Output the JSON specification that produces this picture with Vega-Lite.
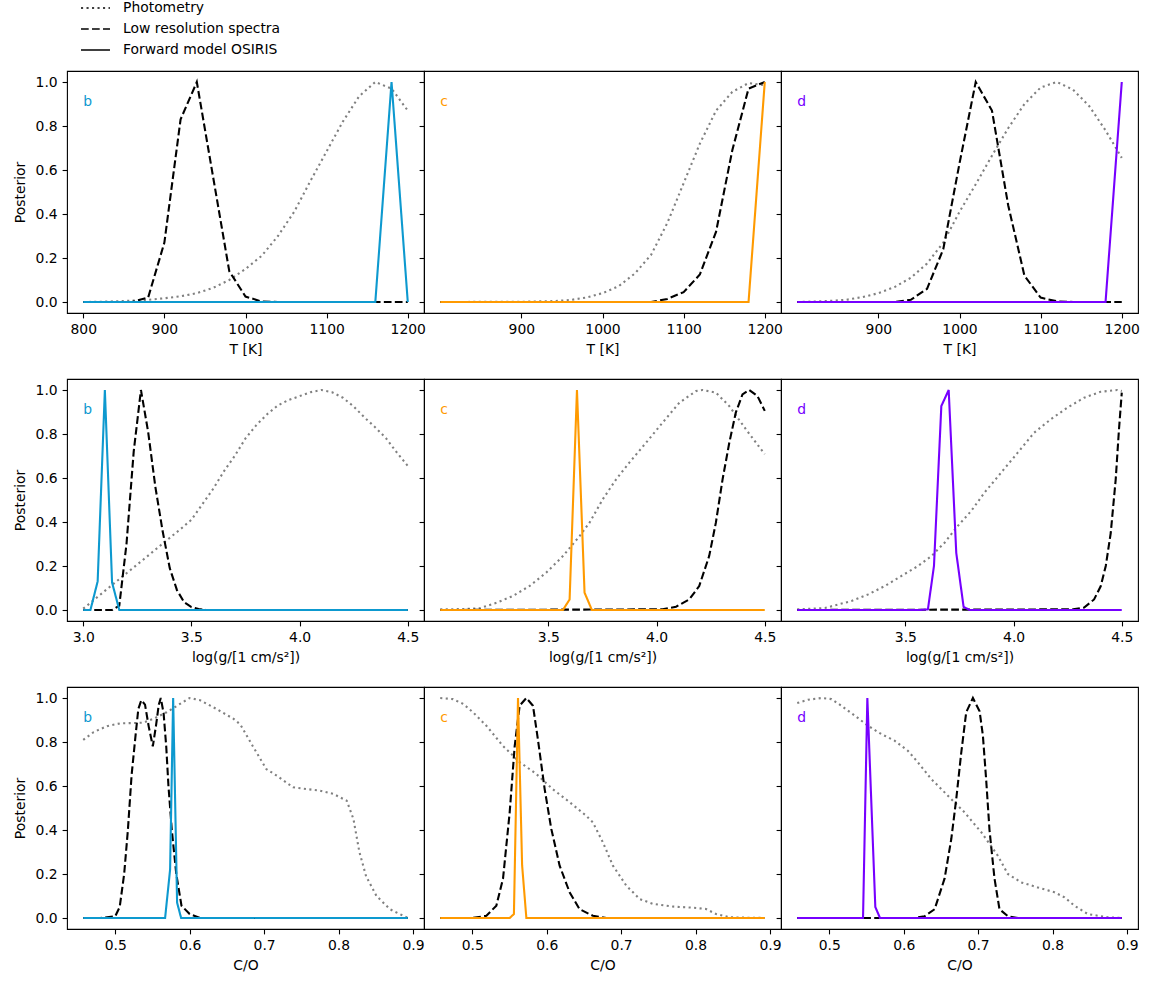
{
"$schema": "https://vega.github.io/schema/vega-lite/v6.json",
"padding": {"left": 12, "top": 0, "right": 13, "bottom": 0},
"config": {
 "font": "DejaVu Sans",
 "view": {"stroke": "#000000", "strokeWidth": 1.1},
 "axis": {"domain": false, "grid": false, "ticks": true, "tickColor": "#000000", "tickSize": 4.9, "tickWidth": 1.1, "labelColor": "#000000", "labelFont": "DejaVu Sans", "labelFontSize": 13.9, "labelPadding": 4.9, "labelFlush": false, "labelOverlap": false, "titleColor": "#000000", "titleFont": "DejaVu Sans", "titleFontSize": 13.9, "titleFontWeight": "normal"},
 "axisX": {"titlePadding": 6},
 "axisY": {"titlePadding": 8}
},
"datasets": {
"labels": [
 {"p":"T","pl":"b","x":800,"y":0.89},{"p":"T","pl":"c","x":800,"y":0.89},{"p":"T","pl":"d","x":800,"y":0.89},
 {"p":"G","pl":"b","x":3.0,"y":0.89},{"p":"G","pl":"c","x":3.0,"y":0.89},{"p":"G","pl":"d","x":3.0,"y":0.89},
 {"p":"CO","pl":"b","x":0.457,"y":0.89},{"p":"CO","pl":"c","x":0.457,"y":0.89},{"p":"CO","pl":"d","x":0.457,"y":0.89}
],
"curves": [
 {"p":"T","pl":"b","type":"Photometry","x":800,"y":0},{"p":"T","pl":"b","type":"Photometry","x":820,"y":0.001},{"p":"T","pl":"b","type":"Photometry","x":840,"y":0.003},{"p":"T","pl":"b","type":"Photometry","x":860,"y":0.006},{"p":"T","pl":"b","type":"Photometry","x":880,"y":0.01},{"p":"T","pl":"b","type":"Photometry","x":900,"y":0.017},{"p":"T","pl":"b","type":"Photometry","x":920,"y":0.026},{"p":"T","pl":"b","type":"Photometry","x":940,"y":0.04},{"p":"T","pl":"b","type":"Photometry","x":960,"y":0.064},{"p":"T","pl":"b","type":"Photometry","x":980,"y":0.1},{"p":"T","pl":"b","type":"Photometry","x":1000,"y":0.15},{"p":"T","pl":"b","type":"Photometry","x":1020,"y":0.21},{"p":"T","pl":"b","type":"Photometry","x":1040,"y":0.3},{"p":"T","pl":"b","type":"Photometry","x":1060,"y":0.41},{"p":"T","pl":"b","type":"Photometry","x":1080,"y":0.55},{"p":"T","pl":"b","type":"Photometry","x":1100,"y":0.685},{"p":"T","pl":"b","type":"Photometry","x":1120,"y":0.82},{"p":"T","pl":"b","type":"Photometry","x":1140,"y":0.935},{"p":"T","pl":"b","type":"Photometry","x":1160,"y":1.0},{"p":"T","pl":"b","type":"Photometry","x":1180,"y":0.97},{"p":"T","pl":"b","type":"Photometry","x":1200,"y":0.87},
 {"p":"T","pl":"b","type":"Low resolution spectra","x":800,"y":0},{"p":"T","pl":"b","type":"Low resolution spectra","x":860,"y":0},{"p":"T","pl":"b","type":"Low resolution spectra","x":880,"y":0.02},{"p":"T","pl":"b","type":"Low resolution spectra","x":900,"y":0.27},{"p":"T","pl":"b","type":"Low resolution spectra","x":920,"y":0.83},{"p":"T","pl":"b","type":"Low resolution spectra","x":940,"y":1.0},{"p":"T","pl":"b","type":"Low resolution spectra","x":960,"y":0.57},{"p":"T","pl":"b","type":"Low resolution spectra","x":980,"y":0.14},{"p":"T","pl":"b","type":"Low resolution spectra","x":1000,"y":0.025},{"p":"T","pl":"b","type":"Low resolution spectra","x":1020,"y":0.002},{"p":"T","pl":"b","type":"Low resolution spectra","x":1040,"y":0},{"p":"T","pl":"b","type":"Low resolution spectra","x":1200,"y":0},
 {"p":"T","pl":"b","type":"Forward model OSIRIS","x":800,"y":0},{"p":"T","pl":"b","type":"Forward model OSIRIS","x":1160,"y":0},{"p":"T","pl":"b","type":"Forward model OSIRIS","x":1180,"y":1.0},{"p":"T","pl":"b","type":"Forward model OSIRIS","x":1200,"y":0},

 {"p":"T","pl":"c","type":"Photometry","x":800,"y":0},{"p":"T","pl":"c","type":"Photometry","x":900,"y":0.001},{"p":"T","pl":"c","type":"Photometry","x":940,"y":0.004},{"p":"T","pl":"c","type":"Photometry","x":960,"y":0.009},{"p":"T","pl":"c","type":"Photometry","x":980,"y":0.02},{"p":"T","pl":"c","type":"Photometry","x":1000,"y":0.04},{"p":"T","pl":"c","type":"Photometry","x":1020,"y":0.072},{"p":"T","pl":"c","type":"Photometry","x":1040,"y":0.13},{"p":"T","pl":"c","type":"Photometry","x":1060,"y":0.215},{"p":"T","pl":"c","type":"Photometry","x":1080,"y":0.36},{"p":"T","pl":"c","type":"Photometry","x":1100,"y":0.54},{"p":"T","pl":"c","type":"Photometry","x":1120,"y":0.72},{"p":"T","pl":"c","type":"Photometry","x":1140,"y":0.87},{"p":"T","pl":"c","type":"Photometry","x":1160,"y":0.955},{"p":"T","pl":"c","type":"Photometry","x":1180,"y":0.995},{"p":"T","pl":"c","type":"Photometry","x":1200,"y":0.985},
 {"p":"T","pl":"c","type":"Low resolution spectra","x":800,"y":0},{"p":"T","pl":"c","type":"Low resolution spectra","x":1060,"y":0},{"p":"T","pl":"c","type":"Low resolution spectra","x":1080,"y":0.014},{"p":"T","pl":"c","type":"Low resolution spectra","x":1100,"y":0.045},{"p":"T","pl":"c","type":"Low resolution spectra","x":1120,"y":0.125},{"p":"T","pl":"c","type":"Low resolution spectra","x":1140,"y":0.32},{"p":"T","pl":"c","type":"Low resolution spectra","x":1160,"y":0.69},{"p":"T","pl":"c","type":"Low resolution spectra","x":1180,"y":0.97},{"p":"T","pl":"c","type":"Low resolution spectra","x":1200,"y":1.0},
 {"p":"T","pl":"c","type":"Forward model OSIRIS","x":800,"y":0},{"p":"T","pl":"c","type":"Forward model OSIRIS","x":1180,"y":0},{"p":"T","pl":"c","type":"Forward model OSIRIS","x":1200,"y":1.0},

 {"p":"T","pl":"d","type":"Photometry","x":800,"y":0},{"p":"T","pl":"d","type":"Photometry","x":820,"y":0.002},{"p":"T","pl":"d","type":"Photometry","x":840,"y":0.005},{"p":"T","pl":"d","type":"Photometry","x":860,"y":0.01},{"p":"T","pl":"d","type":"Photometry","x":880,"y":0.022},{"p":"T","pl":"d","type":"Photometry","x":900,"y":0.04},{"p":"T","pl":"d","type":"Photometry","x":920,"y":0.068},{"p":"T","pl":"d","type":"Photometry","x":940,"y":0.11},{"p":"T","pl":"d","type":"Photometry","x":960,"y":0.175},{"p":"T","pl":"d","type":"Photometry","x":980,"y":0.27},{"p":"T","pl":"d","type":"Photometry","x":1000,"y":0.41},{"p":"T","pl":"d","type":"Photometry","x":1020,"y":0.535},{"p":"T","pl":"d","type":"Photometry","x":1040,"y":0.665},{"p":"T","pl":"d","type":"Photometry","x":1060,"y":0.79},{"p":"T","pl":"d","type":"Photometry","x":1080,"y":0.9},{"p":"T","pl":"d","type":"Photometry","x":1100,"y":0.975},{"p":"T","pl":"d","type":"Photometry","x":1120,"y":1.0},{"p":"T","pl":"d","type":"Photometry","x":1140,"y":0.965},{"p":"T","pl":"d","type":"Photometry","x":1160,"y":0.89},{"p":"T","pl":"d","type":"Photometry","x":1180,"y":0.78},{"p":"T","pl":"d","type":"Photometry","x":1200,"y":0.655},
 {"p":"T","pl":"d","type":"Low resolution spectra","x":800,"y":0},{"p":"T","pl":"d","type":"Low resolution spectra","x":920,"y":0},{"p":"T","pl":"d","type":"Low resolution spectra","x":940,"y":0.01},{"p":"T","pl":"d","type":"Low resolution spectra","x":960,"y":0.06},{"p":"T","pl":"d","type":"Low resolution spectra","x":980,"y":0.24},{"p":"T","pl":"d","type":"Low resolution spectra","x":1000,"y":0.63},{"p":"T","pl":"d","type":"Low resolution spectra","x":1020,"y":1.0},{"p":"T","pl":"d","type":"Low resolution spectra","x":1040,"y":0.87},{"p":"T","pl":"d","type":"Low resolution spectra","x":1060,"y":0.44},{"p":"T","pl":"d","type":"Low resolution spectra","x":1080,"y":0.12},{"p":"T","pl":"d","type":"Low resolution spectra","x":1100,"y":0.02},{"p":"T","pl":"d","type":"Low resolution spectra","x":1120,"y":0.003},{"p":"T","pl":"d","type":"Low resolution spectra","x":1140,"y":0},{"p":"T","pl":"d","type":"Low resolution spectra","x":1200,"y":0},
 {"p":"T","pl":"d","type":"Forward model OSIRIS","x":800,"y":0},{"p":"T","pl":"d","type":"Forward model OSIRIS","x":1180,"y":0},{"p":"T","pl":"d","type":"Forward model OSIRIS","x":1200,"y":1.0},

 {"p":"G","pl":"b","type":"Photometry","x":3.0,"y":0.006},{"p":"G","pl":"b","type":"Photometry","x":3.05,"y":0.046},{"p":"G","pl":"b","type":"Photometry","x":3.1,"y":0.087},{"p":"G","pl":"b","type":"Photometry","x":3.15,"y":0.127},{"p":"G","pl":"b","type":"Photometry","x":3.2,"y":0.167},{"p":"G","pl":"b","type":"Photometry","x":3.25,"y":0.207},{"p":"G","pl":"b","type":"Photometry","x":3.3,"y":0.247},{"p":"G","pl":"b","type":"Photometry","x":3.35,"y":0.288},{"p":"G","pl":"b","type":"Photometry","x":3.4,"y":0.328},{"p":"G","pl":"b","type":"Photometry","x":3.45,"y":0.368},{"p":"G","pl":"b","type":"Photometry","x":3.5,"y":0.41},{"p":"G","pl":"b","type":"Photometry","x":3.55,"y":0.48},{"p":"G","pl":"b","type":"Photometry","x":3.6,"y":0.55},{"p":"G","pl":"b","type":"Photometry","x":3.65,"y":0.63},{"p":"G","pl":"b","type":"Photometry","x":3.7,"y":0.7},{"p":"G","pl":"b","type":"Photometry","x":3.75,"y":0.78},{"p":"G","pl":"b","type":"Photometry","x":3.8,"y":0.84},{"p":"G","pl":"b","type":"Photometry","x":3.85,"y":0.89},{"p":"G","pl":"b","type":"Photometry","x":3.9,"y":0.93},{"p":"G","pl":"b","type":"Photometry","x":3.95,"y":0.955},{"p":"G","pl":"b","type":"Photometry","x":4.0,"y":0.972},{"p":"G","pl":"b","type":"Photometry","x":4.05,"y":0.99},{"p":"G","pl":"b","type":"Photometry","x":4.1,"y":1.0},{"p":"G","pl":"b","type":"Photometry","x":4.15,"y":0.99},{"p":"G","pl":"b","type":"Photometry","x":4.2,"y":0.965},{"p":"G","pl":"b","type":"Photometry","x":4.25,"y":0.925},{"p":"G","pl":"b","type":"Photometry","x":4.3,"y":0.875},{"p":"G","pl":"b","type":"Photometry","x":4.35,"y":0.83},{"p":"G","pl":"b","type":"Photometry","x":4.4,"y":0.78},{"p":"G","pl":"b","type":"Photometry","x":4.45,"y":0.715},{"p":"G","pl":"b","type":"Photometry","x":4.5,"y":0.655},
 {"p":"G","pl":"b","type":"Low resolution spectra","x":3.0,"y":0},{"p":"G","pl":"b","type":"Low resolution spectra","x":3.1333,"y":0},{"p":"G","pl":"b","type":"Low resolution spectra","x":3.1667,"y":0.02},{"p":"G","pl":"b","type":"Low resolution spectra","x":3.2,"y":0.3},{"p":"G","pl":"b","type":"Low resolution spectra","x":3.2333,"y":0.72},{"p":"G","pl":"b","type":"Low resolution spectra","x":3.2667,"y":1.0},{"p":"G","pl":"b","type":"Low resolution spectra","x":3.3,"y":0.81},{"p":"G","pl":"b","type":"Low resolution spectra","x":3.3333,"y":0.56},{"p":"G","pl":"b","type":"Low resolution spectra","x":3.3667,"y":0.36},{"p":"G","pl":"b","type":"Low resolution spectra","x":3.4,"y":0.19},{"p":"G","pl":"b","type":"Low resolution spectra","x":3.4333,"y":0.09},{"p":"G","pl":"b","type":"Low resolution spectra","x":3.4667,"y":0.035},{"p":"G","pl":"b","type":"Low resolution spectra","x":3.5,"y":0.013},{"p":"G","pl":"b","type":"Low resolution spectra","x":3.5333,"y":0.004},{"p":"G","pl":"b","type":"Low resolution spectra","x":3.5667,"y":0.001},{"p":"G","pl":"b","type":"Low resolution spectra","x":3.6,"y":0},{"p":"G","pl":"b","type":"Low resolution spectra","x":4.5,"y":0},
 {"p":"G","pl":"b","type":"Forward model OSIRIS","x":3.0,"y":0},{"p":"G","pl":"b","type":"Forward model OSIRIS","x":3.0333,"y":0},{"p":"G","pl":"b","type":"Forward model OSIRIS","x":3.0667,"y":0.13},{"p":"G","pl":"b","type":"Forward model OSIRIS","x":3.1,"y":1.0},{"p":"G","pl":"b","type":"Forward model OSIRIS","x":3.1333,"y":0.125},{"p":"G","pl":"b","type":"Forward model OSIRIS","x":3.1667,"y":0},{"p":"G","pl":"b","type":"Forward model OSIRIS","x":4.5,"y":0},

 {"p":"G","pl":"c","type":"Photometry","x":3.0,"y":0.003},{"p":"G","pl":"c","type":"Photometry","x":3.1,"y":0.004},{"p":"G","pl":"c","type":"Photometry","x":3.183,"y":0.008},{"p":"G","pl":"c","type":"Photometry","x":3.26,"y":0.033},{"p":"G","pl":"c","type":"Photometry","x":3.337,"y":0.064},{"p":"G","pl":"c","type":"Photometry","x":3.414,"y":0.11},{"p":"G","pl":"c","type":"Photometry","x":3.49,"y":0.17},{"p":"G","pl":"c","type":"Photometry","x":3.567,"y":0.245},{"p":"G","pl":"c","type":"Photometry","x":3.644,"y":0.336},{"p":"G","pl":"c","type":"Photometry","x":3.69,"y":0.397},{"p":"G","pl":"c","type":"Photometry","x":3.751,"y":0.503},{"p":"G","pl":"c","type":"Photometry","x":3.813,"y":0.594},{"p":"G","pl":"c","type":"Photometry","x":3.874,"y":0.67},{"p":"G","pl":"c","type":"Photometry","x":3.951,"y":0.76},{"p":"G","pl":"c","type":"Photometry","x":4.028,"y":0.852},{"p":"G","pl":"c","type":"Photometry","x":4.105,"y":0.942},{"p":"G","pl":"c","type":"Photometry","x":4.182,"y":0.995},{"p":"G","pl":"c","type":"Photometry","x":4.213,"y":1.0},{"p":"G","pl":"c","type":"Photometry","x":4.274,"y":0.988},{"p":"G","pl":"c","type":"Photometry","x":4.336,"y":0.927},{"p":"G","pl":"c","type":"Photometry","x":4.413,"y":0.821},{"p":"G","pl":"c","type":"Photometry","x":4.5,"y":0.708},
 {"p":"G","pl":"c","type":"Low resolution spectra","x":3.0,"y":0},{"p":"G","pl":"c","type":"Low resolution spectra","x":4.028,"y":0.003},{"p":"G","pl":"c","type":"Low resolution spectra","x":4.09,"y":0.015},{"p":"G","pl":"c","type":"Low resolution spectra","x":4.151,"y":0.048},{"p":"G","pl":"c","type":"Low resolution spectra","x":4.197,"y":0.109},{"p":"G","pl":"c","type":"Low resolution spectra","x":4.243,"y":0.245},{"p":"G","pl":"c","type":"Low resolution spectra","x":4.274,"y":0.397},{"p":"G","pl":"c","type":"Low resolution spectra","x":4.305,"y":0.594},{"p":"G","pl":"c","type":"Low resolution spectra","x":4.336,"y":0.76},{"p":"G","pl":"c","type":"Low resolution spectra","x":4.366,"y":0.897},{"p":"G","pl":"c","type":"Low resolution spectra","x":4.397,"y":0.98},{"p":"G","pl":"c","type":"Low resolution spectra","x":4.428,"y":1.0},{"p":"G","pl":"c","type":"Low resolution spectra","x":4.466,"y":0.973},{"p":"G","pl":"c","type":"Low resolution spectra","x":4.5,"y":0.905},
 {"p":"G","pl":"c","type":"Forward model OSIRIS","x":3.0,"y":0},{"p":"G","pl":"c","type":"Forward model OSIRIS","x":3.567,"y":0},{"p":"G","pl":"c","type":"Forward model OSIRIS","x":3.598,"y":0.048},{"p":"G","pl":"c","type":"Forward model OSIRIS","x":3.632,"y":1.0},{"p":"G","pl":"c","type":"Forward model OSIRIS","x":3.667,"y":0.079},{"p":"G","pl":"c","type":"Forward model OSIRIS","x":3.701,"y":0},{"p":"G","pl":"c","type":"Forward model OSIRIS","x":4.5,"y":0},

 {"p":"G","pl":"d","type":"Photometry","x":3.0,"y":0.003},{"p":"G","pl":"d","type":"Photometry","x":3.128,"y":0.009},{"p":"G","pl":"d","type":"Photometry","x":3.251,"y":0.041},{"p":"G","pl":"d","type":"Photometry","x":3.328,"y":0.071},{"p":"G","pl":"d","type":"Photometry","x":3.405,"y":0.109},{"p":"G","pl":"d","type":"Photometry","x":3.482,"y":0.155},{"p":"G","pl":"d","type":"Photometry","x":3.558,"y":0.2},{"p":"G","pl":"d","type":"Photometry","x":3.62,"y":0.245},{"p":"G","pl":"d","type":"Photometry","x":3.681,"y":0.306},{"p":"G","pl":"d","type":"Photometry","x":3.742,"y":0.382},{"p":"G","pl":"d","type":"Photometry","x":3.804,"y":0.45},{"p":"G","pl":"d","type":"Photometry","x":3.865,"y":0.533},{"p":"G","pl":"d","type":"Photometry","x":3.942,"y":0.624},{"p":"G","pl":"d","type":"Photometry","x":4.019,"y":0.715},{"p":"G","pl":"d","type":"Photometry","x":4.095,"y":0.806},{"p":"G","pl":"d","type":"Photometry","x":4.172,"y":0.867},{"p":"G","pl":"d","type":"Photometry","x":4.249,"y":0.92},{"p":"G","pl":"d","type":"Photometry","x":4.326,"y":0.965},{"p":"G","pl":"d","type":"Photometry","x":4.402,"y":0.992},{"p":"G","pl":"d","type":"Photometry","x":4.479,"y":1.0},{"p":"G","pl":"d","type":"Photometry","x":4.5,"y":0.995},
 {"p":"G","pl":"d","type":"Low resolution spectra","x":3.0,"y":0},{"p":"G","pl":"d","type":"Low resolution spectra","x":4.275,"y":0.003},{"p":"G","pl":"d","type":"Low resolution spectra","x":4.326,"y":0.011},{"p":"G","pl":"d","type":"Low resolution spectra","x":4.372,"y":0.048},{"p":"G","pl":"d","type":"Low resolution spectra","x":4.403,"y":0.109},{"p":"G","pl":"d","type":"Low resolution spectra","x":4.426,"y":0.2},{"p":"G","pl":"d","type":"Low resolution spectra","x":4.449,"y":0.35},{"p":"G","pl":"d","type":"Low resolution spectra","x":4.472,"y":0.594},{"p":"G","pl":"d","type":"Low resolution spectra","x":4.487,"y":0.82},{"p":"G","pl":"d","type":"Low resolution spectra","x":4.5,"y":0.988},
 {"p":"G","pl":"d","type":"Forward model OSIRIS","x":3.0,"y":0},{"p":"G","pl":"d","type":"Forward model OSIRIS","x":3.567,"y":0},{"p":"G","pl":"d","type":"Forward model OSIRIS","x":3.604,"y":0.003},{"p":"G","pl":"d","type":"Forward model OSIRIS","x":3.632,"y":0.2},{"p":"G","pl":"d","type":"Forward model OSIRIS","x":3.666,"y":0.927},{"p":"G","pl":"d","type":"Forward model OSIRIS","x":3.7,"y":1.0},{"p":"G","pl":"d","type":"Forward model OSIRIS","x":3.735,"y":0.26},{"p":"G","pl":"d","type":"Forward model OSIRIS","x":3.769,"y":0.014},{"p":"G","pl":"d","type":"Forward model OSIRIS","x":3.797,"y":0},{"p":"G","pl":"d","type":"Forward model OSIRIS","x":4.5,"y":0},

 {"p":"CO","pl":"b","type":"Photometry","x":0.457,"y":0.81},{"p":"CO","pl":"b","type":"Photometry","x":0.471,"y":0.845},{"p":"CO","pl":"b","type":"Photometry","x":0.489,"y":0.872},{"p":"CO","pl":"b","type":"Photometry","x":0.507,"y":0.885},{"p":"CO","pl":"b","type":"Photometry","x":0.525,"y":0.886},{"p":"CO","pl":"b","type":"Photometry","x":0.538,"y":0.888},{"p":"CO","pl":"b","type":"Photometry","x":0.551,"y":0.905},{"p":"CO","pl":"b","type":"Photometry","x":0.569,"y":0.935},{"p":"CO","pl":"b","type":"Photometry","x":0.587,"y":0.973},{"p":"CO","pl":"b","type":"Photometry","x":0.6,"y":1.0},{"p":"CO","pl":"b","type":"Photometry","x":0.614,"y":0.99},{"p":"CO","pl":"b","type":"Photometry","x":0.636,"y":0.95},{"p":"CO","pl":"b","type":"Photometry","x":0.659,"y":0.905},{"p":"CO","pl":"b","type":"Photometry","x":0.668,"y":0.88},{"p":"CO","pl":"b","type":"Photometry","x":0.685,"y":0.78},{"p":"CO","pl":"b","type":"Photometry","x":0.703,"y":0.677},{"p":"CO","pl":"b","type":"Photometry","x":0.717,"y":0.647},{"p":"CO","pl":"b","type":"Photometry","x":0.739,"y":0.594},{"p":"CO","pl":"b","type":"Photometry","x":0.757,"y":0.586},{"p":"CO","pl":"b","type":"Photometry","x":0.775,"y":0.579},{"p":"CO","pl":"b","type":"Photometry","x":0.793,"y":0.564},{"p":"CO","pl":"b","type":"Photometry","x":0.811,"y":0.533},{"p":"CO","pl":"b","type":"Photometry","x":0.82,"y":0.45},{"p":"CO","pl":"b","type":"Photometry","x":0.828,"y":0.3},{"p":"CO","pl":"b","type":"Photometry","x":0.837,"y":0.19},{"p":"CO","pl":"b","type":"Photometry","x":0.851,"y":0.1},{"p":"CO","pl":"b","type":"Photometry","x":0.869,"y":0.04},{"p":"CO","pl":"b","type":"Photometry","x":0.893,"y":0.0},
 {"p":"CO","pl":"b","type":"Low resolution spectra","x":0.457,"y":0},{"p":"CO","pl":"b","type":"Low resolution spectra","x":0.48,"y":0},{"p":"CO","pl":"b","type":"Low resolution spectra","x":0.5,"y":0.008},{"p":"CO","pl":"b","type":"Low resolution spectra","x":0.506,"y":0.05},{"p":"CO","pl":"b","type":"Low resolution spectra","x":0.512,"y":0.2},{"p":"CO","pl":"b","type":"Low resolution spectra","x":0.517,"y":0.4},{"p":"CO","pl":"b","type":"Low resolution spectra","x":0.522,"y":0.65},{"p":"CO","pl":"b","type":"Low resolution spectra","x":0.527,"y":0.82},{"p":"CO","pl":"b","type":"Low resolution spectra","x":0.531,"y":0.95},{"p":"CO","pl":"b","type":"Low resolution spectra","x":0.535,"y":0.99},{"p":"CO","pl":"b","type":"Low resolution spectra","x":0.54,"y":0.97},{"p":"CO","pl":"b","type":"Low resolution spectra","x":0.545,"y":0.87},{"p":"CO","pl":"b","type":"Low resolution spectra","x":0.5505,"y":0.78},{"p":"CO","pl":"b","type":"Low resolution spectra","x":0.555,"y":0.88},{"p":"CO","pl":"b","type":"Low resolution spectra","x":0.5585,"y":0.97},{"p":"CO","pl":"b","type":"Low resolution spectra","x":0.5612,"y":1.0},{"p":"CO","pl":"b","type":"Low resolution spectra","x":0.565,"y":0.93},{"p":"CO","pl":"b","type":"Low resolution spectra","x":0.5685,"y":0.78},{"p":"CO","pl":"b","type":"Low resolution spectra","x":0.5715,"y":0.6},{"p":"CO","pl":"b","type":"Low resolution spectra","x":0.576,"y":0.4},{"p":"CO","pl":"b","type":"Low resolution spectra","x":0.582,"y":0.2},{"p":"CO","pl":"b","type":"Low resolution spectra","x":0.589,"y":0.056},{"p":"CO","pl":"b","type":"Low resolution spectra","x":0.6,"y":0.018},{"p":"CO","pl":"b","type":"Low resolution spectra","x":0.614,"y":0},{"p":"CO","pl":"b","type":"Low resolution spectra","x":0.893,"y":0},
 {"p":"CO","pl":"b","type":"Forward model OSIRIS","x":0.457,"y":0},{"p":"CO","pl":"b","type":"Forward model OSIRIS","x":0.567,"y":0},{"p":"CO","pl":"b","type":"Forward model OSIRIS","x":0.5737,"y":0.22},{"p":"CO","pl":"b","type":"Forward model OSIRIS","x":0.5778,"y":1.0},{"p":"CO","pl":"b","type":"Forward model OSIRIS","x":0.5831,"y":0.07},{"p":"CO","pl":"b","type":"Forward model OSIRIS","x":0.5885,"y":0},{"p":"CO","pl":"b","type":"Forward model OSIRIS","x":0.893,"y":0},

 {"p":"CO","pl":"c","type":"Photometry","x":0.457,"y":1.0},{"p":"CO","pl":"c","type":"Photometry","x":0.474,"y":0.995},{"p":"CO","pl":"c","type":"Photometry","x":0.488,"y":0.973},{"p":"CO","pl":"c","type":"Photometry","x":0.501,"y":0.935},{"p":"CO","pl":"c","type":"Photometry","x":0.519,"y":0.874},{"p":"CO","pl":"c","type":"Photometry","x":0.541,"y":0.783},{"p":"CO","pl":"c","type":"Photometry","x":0.564,"y":0.708},{"p":"CO","pl":"c","type":"Photometry","x":0.586,"y":0.655},{"p":"CO","pl":"c","type":"Photometry","x":0.608,"y":0.586},{"p":"CO","pl":"c","type":"Photometry","x":0.631,"y":0.526},{"p":"CO","pl":"c","type":"Photometry","x":0.653,"y":0.465},{"p":"CO","pl":"c","type":"Photometry","x":0.662,"y":0.435},{"p":"CO","pl":"c","type":"Photometry","x":0.6755,"y":0.344},{"p":"CO","pl":"c","type":"Photometry","x":0.689,"y":0.238},{"p":"CO","pl":"c","type":"Photometry","x":0.707,"y":0.147},{"p":"CO","pl":"c","type":"Photometry","x":0.725,"y":0.086},{"p":"CO","pl":"c","type":"Photometry","x":0.743,"y":0.064},{"p":"CO","pl":"c","type":"Photometry","x":0.769,"y":0.052},{"p":"CO","pl":"c","type":"Photometry","x":0.796,"y":0.047},{"p":"CO","pl":"c","type":"Photometry","x":0.814,"y":0.041},{"p":"CO","pl":"c","type":"Photometry","x":0.8276,"y":0.018},{"p":"CO","pl":"c","type":"Photometry","x":0.8456,"y":0.003},{"p":"CO","pl":"c","type":"Photometry","x":0.893,"y":0},
 {"p":"CO","pl":"c","type":"Low resolution spectra","x":0.457,"y":0},{"p":"CO","pl":"c","type":"Low resolution spectra","x":0.5,"y":0},{"p":"CO","pl":"c","type":"Low resolution spectra","x":0.519,"y":0.01},{"p":"CO","pl":"c","type":"Low resolution spectra","x":0.5324,"y":0.056},{"p":"CO","pl":"c","type":"Low resolution spectra","x":0.5414,"y":0.18},{"p":"CO","pl":"c","type":"Low resolution spectra","x":0.5503,"y":0.48},{"p":"CO","pl":"c","type":"Low resolution spectra","x":0.557,"y":0.78},{"p":"CO","pl":"c","type":"Low resolution spectra","x":0.5637,"y":0.965},{"p":"CO","pl":"c","type":"Low resolution spectra","x":0.5727,"y":1.0},{"p":"CO","pl":"c","type":"Low resolution spectra","x":0.5816,"y":0.965},{"p":"CO","pl":"c","type":"Low resolution spectra","x":0.5883,"y":0.81},{"p":"CO","pl":"c","type":"Low resolution spectra","x":0.5973,"y":0.586},{"p":"CO","pl":"c","type":"Low resolution spectra","x":0.6062,"y":0.405},{"p":"CO","pl":"c","type":"Low resolution spectra","x":0.6174,"y":0.238},{"p":"CO","pl":"c","type":"Low resolution spectra","x":0.6308,"y":0.117},{"p":"CO","pl":"c","type":"Low resolution spectra","x":0.6442,"y":0.04},{"p":"CO","pl":"c","type":"Low resolution spectra","x":0.6621,"y":0.01},{"p":"CO","pl":"c","type":"Low resolution spectra","x":0.68,"y":0},{"p":"CO","pl":"c","type":"Low resolution spectra","x":0.893,"y":0},
 {"p":"CO","pl":"c","type":"Forward model OSIRIS","x":0.457,"y":0},{"p":"CO","pl":"c","type":"Forward model OSIRIS","x":0.5503,"y":0},{"p":"CO","pl":"c","type":"Forward model OSIRIS","x":0.556,"y":0.018},{"p":"CO","pl":"c","type":"Forward model OSIRIS","x":0.5615,"y":1.0},{"p":"CO","pl":"c","type":"Forward model OSIRIS","x":0.567,"y":0.24},{"p":"CO","pl":"c","type":"Forward model OSIRIS","x":0.5727,"y":0},{"p":"CO","pl":"c","type":"Forward model OSIRIS","x":0.893,"y":0},

 {"p":"CO","pl":"d","type":"Photometry","x":0.457,"y":0.977},{"p":"CO","pl":"d","type":"Photometry","x":0.4716,"y":0.992},{"p":"CO","pl":"d","type":"Photometry","x":0.4895,"y":1.0},{"p":"CO","pl":"d","type":"Photometry","x":0.503,"y":0.995},{"p":"CO","pl":"d","type":"Photometry","x":0.5163,"y":0.965},{"p":"CO","pl":"d","type":"Photometry","x":0.5342,"y":0.92},{"p":"CO","pl":"d","type":"Photometry","x":0.552,"y":0.874},{"p":"CO","pl":"d","type":"Photometry","x":0.57,"y":0.836},{"p":"CO","pl":"d","type":"Photometry","x":0.5878,"y":0.806},{"p":"CO","pl":"d","type":"Photometry","x":0.6057,"y":0.76},{"p":"CO","pl":"d","type":"Photometry","x":0.619,"y":0.708},{"p":"CO","pl":"d","type":"Photometry","x":0.637,"y":0.632},{"p":"CO","pl":"d","type":"Photometry","x":0.6594,"y":0.556},{"p":"CO","pl":"d","type":"Photometry","x":0.6818,"y":0.48},{"p":"CO","pl":"d","type":"Photometry","x":0.7042,"y":0.39},{"p":"CO","pl":"d","type":"Photometry","x":0.7265,"y":0.283},{"p":"CO","pl":"d","type":"Photometry","x":0.74,"y":0.2},{"p":"CO","pl":"d","type":"Photometry","x":0.7578,"y":0.162},{"p":"CO","pl":"d","type":"Photometry","x":0.78,"y":0.139},{"p":"CO","pl":"d","type":"Photometry","x":0.8025,"y":0.117},{"p":"CO","pl":"d","type":"Photometry","x":0.816,"y":0.094},{"p":"CO","pl":"d","type":"Photometry","x":0.8294,"y":0.056},{"p":"CO","pl":"d","type":"Photometry","x":0.8473,"y":0.018},{"p":"CO","pl":"d","type":"Photometry","x":0.874,"y":0.003},{"p":"CO","pl":"d","type":"Photometry","x":0.893,"y":0},
 {"p":"CO","pl":"d","type":"Low resolution spectra","x":0.457,"y":0},{"p":"CO","pl":"d","type":"Low resolution spectra","x":0.6148,"y":0},{"p":"CO","pl":"d","type":"Low resolution spectra","x":0.628,"y":0.008},{"p":"CO","pl":"d","type":"Low resolution spectra","x":0.6416,"y":0.04},{"p":"CO","pl":"d","type":"Low resolution spectra","x":0.655,"y":0.18},{"p":"CO","pl":"d","type":"Low resolution spectra","x":0.664,"y":0.36},{"p":"CO","pl":"d","type":"Low resolution spectra","x":0.6706,"y":0.54},{"p":"CO","pl":"d","type":"Low resolution spectra","x":0.6773,"y":0.75},{"p":"CO","pl":"d","type":"Low resolution spectra","x":0.684,"y":0.935},{"p":"CO","pl":"d","type":"Low resolution spectra","x":0.693,"y":1.0},{"p":"CO","pl":"d","type":"Low resolution spectra","x":0.702,"y":0.94},{"p":"CO","pl":"d","type":"Low resolution spectra","x":0.7064,"y":0.83},{"p":"CO","pl":"d","type":"Low resolution spectra","x":0.7108,"y":0.63},{"p":"CO","pl":"d","type":"Low resolution spectra","x":0.7153,"y":0.4},{"p":"CO","pl":"d","type":"Low resolution spectra","x":0.722,"y":0.18},{"p":"CO","pl":"d","type":"Low resolution spectra","x":0.7287,"y":0.04},{"p":"CO","pl":"d","type":"Low resolution spectra","x":0.74,"y":0.008},{"p":"CO","pl":"d","type":"Low resolution spectra","x":0.7533,"y":0},{"p":"CO","pl":"d","type":"Low resolution spectra","x":0.893,"y":0},
 {"p":"CO","pl":"d","type":"Forward model OSIRIS","x":0.457,"y":0},{"p":"CO","pl":"d","type":"Forward model OSIRIS","x":0.5454,"y":0},{"p":"CO","pl":"d","type":"Forward model OSIRIS","x":0.5512,"y":1.0},{"p":"CO","pl":"d","type":"Forward model OSIRIS","x":0.5619,"y":0.05},{"p":"CO","pl":"d","type":"Forward model OSIRIS","x":0.5682,"y":0},{"p":"CO","pl":"d","type":"Forward model OSIRIS","x":0.893,"y":0}
]
},
"bounds": "flush",
"columns": 3,
"spacing": {"row": 66, "column": 0},
"concat": [
  {"width": 357, "height": 242,
   "encoding": {"x": {"field": "x", "type": "quantitative", "scale": {"domain": [780, 1220], "nice": false, "zero": false}, "axis": {"title": "T [K]", "values": [800, 900, 1000, 1100, 1200], "format": "d"}},
                "y": {"field": "y", "type": "quantitative", "scale": {"domain": [-0.05, 1.05], "nice": false, "zero": false}, "axis": {"title": "Posterior", "values": [0, 0.2, 0.4, 0.6, 0.8, 1], "format": ".1f"}}},
   "layer": [
    {"data": {"name": "curves"}, "transform": [{"filter": "datum.p === 'T' && datum.pl === 'b'"}], "mark": {"type": "line", "strokeWidth": 2.1},
     "encoding": {"color": {"condition": [{"test": "datum.type === 'Low resolution spectra'", "value": "#000000"}, {"test": "datum.type === 'Photometry'", "value": "#808080"}], "field": "pl", "type": "nominal", "scale": {"domain": ["b", "c", "d"], "range": ["#0d99cf", "#ff9a00", "#7600ff"]}, "legend": null},
                  "strokeDash": {"field": "type", "type": "nominal", "scale": {"domain": ["Photometry", "Low resolution spectra", "Forward model OSIRIS"], "range": [[2.1, 3.4], [7.7, 3.3], [1, 0]]},
                     "legend": {"title": null, "orient": "none", "legendX": 20.5, "legendY": -71, "direction": "vertical", "symbolType": "M-2.07,0L2.07,0", "symbolSize": 196, "symbolStrokeWidth": 1.3, "labelFont": "DejaVu Sans", "labelFontSize": 13.9, "labelColor": "#000000", "labelOffset": 19.5, "rowPadding": 6, "padding": 0,
                       "encode": {"symbols": {"update": {"stroke": {"value": "#000000"}, "opacity": {"value": 1}, "strokeDash": {"signal": "datum.value === 'Photometry' ? [1.4, 2.3] : datum.value === 'Low resolution spectra' ? [5.1, 2.2] : [1, 0]"}}}}}}}},
    {"data": {"name": "labels"}, "transform": [{"filter": "datum.p === 'T' && datum.pl === 'b'"}], "mark": {"type": "text", "align": "left", "baseline": "alphabetic", "fontSize": 13.9},
     "encoding": {"text": {"field": "pl"}, "color": {"field": "pl", "type": "nominal", "scale": {"domain": ["b", "c", "d"], "range": ["#0d99cf", "#ff9a00", "#7600ff"]}, "legend": null}}}
   ]},
  {"width": 357, "height": 242,
   "encoding": {"x": {"field": "x", "type": "quantitative", "scale": {"domain": [780, 1220], "nice": false, "zero": false}, "axis": {"title": "T [K]", "values": [900, 1000, 1100, 1200], "format": "d"}},
                "y": {"field": "y", "type": "quantitative", "scale": {"domain": [-0.05, 1.05], "nice": false, "zero": false}, "axis": {"title": null, "labels": false, "values": [0, 0.2, 0.4, 0.6, 0.8, 1]}}},
   "layer": [
    {"data": {"name": "curves"}, "transform": [{"filter": "datum.p === 'T' && datum.pl === 'c'"}], "mark": {"type": "line", "strokeWidth": 2.1},
     "encoding": {"color": {"condition": [{"test": "datum.type === 'Low resolution spectra'", "value": "#000000"}, {"test": "datum.type === 'Photometry'", "value": "#808080"}], "field": "pl", "type": "nominal", "scale": {"domain": ["b", "c", "d"], "range": ["#0d99cf", "#ff9a00", "#7600ff"]}, "legend": null},
                  "strokeDash": {"field": "type", "type": "nominal", "scale": {"domain": ["Photometry", "Low resolution spectra", "Forward model OSIRIS"], "range": [[2.1, 3.4], [7.7, 3.3], [1, 0]]}}}},
    {"data": {"name": "labels"}, "transform": [{"filter": "datum.p === 'T' && datum.pl === 'c'"}], "mark": {"type": "text", "align": "left", "baseline": "alphabetic", "fontSize": 13.9},
     "encoding": {"text": {"field": "pl"}, "color": {"field": "pl", "type": "nominal", "scale": {"domain": ["b", "c", "d"], "range": ["#0d99cf", "#ff9a00", "#7600ff"]}, "legend": null}}}
   ]},
  {"width": 357, "height": 242,
   "encoding": {"x": {"field": "x", "type": "quantitative", "scale": {"domain": [780, 1220], "nice": false, "zero": false}, "axis": {"title": "T [K]", "values": [900, 1000, 1100, 1200], "format": "d"}},
                "y": {"field": "y", "type": "quantitative", "scale": {"domain": [-0.05, 1.05], "nice": false, "zero": false}, "axis": {"title": null, "labels": false, "values": [0, 0.2, 0.4, 0.6, 0.8, 1]}}},
   "layer": [
    {"data": {"name": "curves"}, "transform": [{"filter": "datum.p === 'T' && datum.pl === 'd'"}], "mark": {"type": "line", "strokeWidth": 2.1},
     "encoding": {"color": {"condition": [{"test": "datum.type === 'Low resolution spectra'", "value": "#000000"}, {"test": "datum.type === 'Photometry'", "value": "#808080"}], "field": "pl", "type": "nominal", "scale": {"domain": ["b", "c", "d"], "range": ["#0d99cf", "#ff9a00", "#7600ff"]}, "legend": null},
                  "strokeDash": {"field": "type", "type": "nominal", "scale": {"domain": ["Photometry", "Low resolution spectra", "Forward model OSIRIS"], "range": [[2.1, 3.4], [7.7, 3.3], [1, 0]]}}}},
    {"data": {"name": "labels"}, "transform": [{"filter": "datum.p === 'T' && datum.pl === 'd'"}], "mark": {"type": "text", "align": "left", "baseline": "alphabetic", "fontSize": 13.9},
     "encoding": {"text": {"field": "pl"}, "color": {"field": "pl", "type": "nominal", "scale": {"domain": ["b", "c", "d"], "range": ["#0d99cf", "#ff9a00", "#7600ff"]}, "legend": null}}}
   ]},
  {"width": 357, "height": 242,
   "encoding": {"x": {"field": "x", "type": "quantitative", "scale": {"domain": [2.925, 4.575], "nice": false, "zero": false}, "axis": {"title": "log(g/[1 cm/s²])", "values": [3.0, 3.5, 4.0, 4.5], "format": ".1f"}},
                "y": {"field": "y", "type": "quantitative", "scale": {"domain": [-0.05, 1.05], "nice": false, "zero": false}, "axis": {"title": "Posterior", "values": [0, 0.2, 0.4, 0.6, 0.8, 1], "format": ".1f"}}},
   "layer": [
    {"data": {"name": "curves"}, "transform": [{"filter": "datum.p === 'G' && datum.pl === 'b'"}], "mark": {"type": "line", "strokeWidth": 2.1},
     "encoding": {"color": {"condition": [{"test": "datum.type === 'Low resolution spectra'", "value": "#000000"}, {"test": "datum.type === 'Photometry'", "value": "#808080"}], "field": "pl", "type": "nominal", "scale": {"domain": ["b", "c", "d"], "range": ["#0d99cf", "#ff9a00", "#7600ff"]}, "legend": null},
                  "strokeDash": {"field": "type", "type": "nominal", "scale": {"domain": ["Photometry", "Low resolution spectra", "Forward model OSIRIS"], "range": [[2.1, 3.4], [7.7, 3.3], [1, 0]]}}}},
    {"data": {"name": "labels"}, "transform": [{"filter": "datum.p === 'G' && datum.pl === 'b'"}], "mark": {"type": "text", "align": "left", "baseline": "alphabetic", "fontSize": 13.9},
     "encoding": {"text": {"field": "pl"}, "color": {"field": "pl", "type": "nominal", "scale": {"domain": ["b", "c", "d"], "range": ["#0d99cf", "#ff9a00", "#7600ff"]}, "legend": null}}}
   ]},
  {"width": 357, "height": 242,
   "encoding": {"x": {"field": "x", "type": "quantitative", "scale": {"domain": [2.925, 4.575], "nice": false, "zero": false}, "axis": {"title": "log(g/[1 cm/s²])", "values": [3.5, 4.0, 4.5], "format": ".1f"}},
                "y": {"field": "y", "type": "quantitative", "scale": {"domain": [-0.05, 1.05], "nice": false, "zero": false}, "axis": {"title": null, "labels": false, "values": [0, 0.2, 0.4, 0.6, 0.8, 1]}}},
   "layer": [
    {"data": {"name": "curves"}, "transform": [{"filter": "datum.p === 'G' && datum.pl === 'c'"}], "mark": {"type": "line", "strokeWidth": 2.1},
     "encoding": {"color": {"condition": [{"test": "datum.type === 'Low resolution spectra'", "value": "#000000"}, {"test": "datum.type === 'Photometry'", "value": "#808080"}], "field": "pl", "type": "nominal", "scale": {"domain": ["b", "c", "d"], "range": ["#0d99cf", "#ff9a00", "#7600ff"]}, "legend": null},
                  "strokeDash": {"field": "type", "type": "nominal", "scale": {"domain": ["Photometry", "Low resolution spectra", "Forward model OSIRIS"], "range": [[2.1, 3.4], [7.7, 3.3], [1, 0]]}}}},
    {"data": {"name": "labels"}, "transform": [{"filter": "datum.p === 'G' && datum.pl === 'c'"}], "mark": {"type": "text", "align": "left", "baseline": "alphabetic", "fontSize": 13.9},
     "encoding": {"text": {"field": "pl"}, "color": {"field": "pl", "type": "nominal", "scale": {"domain": ["b", "c", "d"], "range": ["#0d99cf", "#ff9a00", "#7600ff"]}, "legend": null}}}
   ]},
  {"width": 357, "height": 242,
   "encoding": {"x": {"field": "x", "type": "quantitative", "scale": {"domain": [2.925, 4.575], "nice": false, "zero": false}, "axis": {"title": "log(g/[1 cm/s²])", "values": [3.5, 4.0, 4.5], "format": ".1f"}},
                "y": {"field": "y", "type": "quantitative", "scale": {"domain": [-0.05, 1.05], "nice": false, "zero": false}, "axis": {"title": null, "labels": false, "values": [0, 0.2, 0.4, 0.6, 0.8, 1]}}},
   "layer": [
    {"data": {"name": "curves"}, "transform": [{"filter": "datum.p === 'G' && datum.pl === 'd'"}], "mark": {"type": "line", "strokeWidth": 2.1},
     "encoding": {"color": {"condition": [{"test": "datum.type === 'Low resolution spectra'", "value": "#000000"}, {"test": "datum.type === 'Photometry'", "value": "#808080"}], "field": "pl", "type": "nominal", "scale": {"domain": ["b", "c", "d"], "range": ["#0d99cf", "#ff9a00", "#7600ff"]}, "legend": null},
                  "strokeDash": {"field": "type", "type": "nominal", "scale": {"domain": ["Photometry", "Low resolution spectra", "Forward model OSIRIS"], "range": [[2.1, 3.4], [7.7, 3.3], [1, 0]]}}}},
    {"data": {"name": "labels"}, "transform": [{"filter": "datum.p === 'G' && datum.pl === 'd'"}], "mark": {"type": "text", "align": "left", "baseline": "alphabetic", "fontSize": 13.9},
     "encoding": {"text": {"field": "pl"}, "color": {"field": "pl", "type": "nominal", "scale": {"domain": ["b", "c", "d"], "range": ["#0d99cf", "#ff9a00", "#7600ff"]}, "legend": null}}}
   ]},
  {"width": 357, "height": 242,
   "encoding": {"x": {"field": "x", "type": "quantitative", "scale": {"domain": [0.4352, 0.9148], "nice": false, "zero": false}, "axis": {"title": "C/O", "values": [0.5, 0.6, 0.7, 0.8, 0.9], "format": ".1f"}},
                "y": {"field": "y", "type": "quantitative", "scale": {"domain": [-0.05, 1.05], "nice": false, "zero": false}, "axis": {"title": "Posterior", "values": [0, 0.2, 0.4, 0.6, 0.8, 1], "format": ".1f"}}},
   "layer": [
    {"data": {"name": "curves"}, "transform": [{"filter": "datum.p === 'CO' && datum.pl === 'b'"}], "mark": {"type": "line", "strokeWidth": 2.1},
     "encoding": {"color": {"condition": [{"test": "datum.type === 'Low resolution spectra'", "value": "#000000"}, {"test": "datum.type === 'Photometry'", "value": "#808080"}], "field": "pl", "type": "nominal", "scale": {"domain": ["b", "c", "d"], "range": ["#0d99cf", "#ff9a00", "#7600ff"]}, "legend": null},
                  "strokeDash": {"field": "type", "type": "nominal", "scale": {"domain": ["Photometry", "Low resolution spectra", "Forward model OSIRIS"], "range": [[2.1, 3.4], [7.7, 3.3], [1, 0]]}}}},
    {"data": {"name": "labels"}, "transform": [{"filter": "datum.p === 'CO' && datum.pl === 'b'"}], "mark": {"type": "text", "align": "left", "baseline": "alphabetic", "fontSize": 13.9},
     "encoding": {"text": {"field": "pl"}, "color": {"field": "pl", "type": "nominal", "scale": {"domain": ["b", "c", "d"], "range": ["#0d99cf", "#ff9a00", "#7600ff"]}, "legend": null}}}
   ]},
  {"width": 357, "height": 242,
   "encoding": {"x": {"field": "x", "type": "quantitative", "scale": {"domain": [0.4352, 0.9148], "nice": false, "zero": false}, "axis": {"title": "C/O", "values": [0.5, 0.6, 0.7, 0.8, 0.9], "format": ".1f"}},
                "y": {"field": "y", "type": "quantitative", "scale": {"domain": [-0.05, 1.05], "nice": false, "zero": false}, "axis": {"title": null, "labels": false, "values": [0, 0.2, 0.4, 0.6, 0.8, 1]}}},
   "layer": [
    {"data": {"name": "curves"}, "transform": [{"filter": "datum.p === 'CO' && datum.pl === 'c'"}], "mark": {"type": "line", "strokeWidth": 2.1},
     "encoding": {"color": {"condition": [{"test": "datum.type === 'Low resolution spectra'", "value": "#000000"}, {"test": "datum.type === 'Photometry'", "value": "#808080"}], "field": "pl", "type": "nominal", "scale": {"domain": ["b", "c", "d"], "range": ["#0d99cf", "#ff9a00", "#7600ff"]}, "legend": null},
                  "strokeDash": {"field": "type", "type": "nominal", "scale": {"domain": ["Photometry", "Low resolution spectra", "Forward model OSIRIS"], "range": [[2.1, 3.4], [7.7, 3.3], [1, 0]]}}}},
    {"data": {"name": "labels"}, "transform": [{"filter": "datum.p === 'CO' && datum.pl === 'c'"}], "mark": {"type": "text", "align": "left", "baseline": "alphabetic", "fontSize": 13.9},
     "encoding": {"text": {"field": "pl"}, "color": {"field": "pl", "type": "nominal", "scale": {"domain": ["b", "c", "d"], "range": ["#0d99cf", "#ff9a00", "#7600ff"]}, "legend": null}}}
   ]},
  {"width": 357, "height": 242,
   "encoding": {"x": {"field": "x", "type": "quantitative", "scale": {"domain": [0.4352, 0.9148], "nice": false, "zero": false}, "axis": {"title": "C/O", "values": [0.5, 0.6, 0.7, 0.8, 0.9], "format": ".1f"}},
                "y": {"field": "y", "type": "quantitative", "scale": {"domain": [-0.05, 1.05], "nice": false, "zero": false}, "axis": {"title": null, "labels": false, "values": [0, 0.2, 0.4, 0.6, 0.8, 1]}}},
   "layer": [
    {"data": {"name": "curves"}, "transform": [{"filter": "datum.p === 'CO' && datum.pl === 'd'"}], "mark": {"type": "line", "strokeWidth": 2.1},
     "encoding": {"color": {"condition": [{"test": "datum.type === 'Low resolution spectra'", "value": "#000000"}, {"test": "datum.type === 'Photometry'", "value": "#808080"}], "field": "pl", "type": "nominal", "scale": {"domain": ["b", "c", "d"], "range": ["#0d99cf", "#ff9a00", "#7600ff"]}, "legend": null},
                  "strokeDash": {"field": "type", "type": "nominal", "scale": {"domain": ["Photometry", "Low resolution spectra", "Forward model OSIRIS"], "range": [[2.1, 3.4], [7.7, 3.3], [1, 0]]}}}},
    {"data": {"name": "labels"}, "transform": [{"filter": "datum.p === 'CO' && datum.pl === 'd'"}], "mark": {"type": "text", "align": "left", "baseline": "alphabetic", "fontSize": 13.9},
     "encoding": {"text": {"field": "pl"}, "color": {"field": "pl", "type": "nominal", "scale": {"domain": ["b", "c", "d"], "range": ["#0d99cf", "#ff9a00", "#7600ff"]}, "legend": null}}}
   ]}
]
}
